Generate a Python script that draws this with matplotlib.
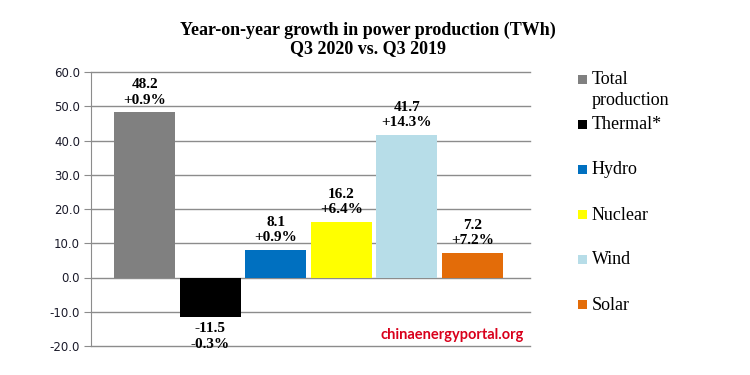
import matplotlib.pyplot as plt
import matplotlib.patches as patches

categories = ["Total\nproduction", "Thermal*", "Hydro", "Nuclear", "Wind", "Solar"]
values = [48.2, -11.5, 8.1, 16.2, 41.7, 7.2]
pct = ["+0.9%", "-0.3%", "+0.9%", "+6.4%", "+14.3%", "+7.2%"]
colors = ["#808080", "#000000", "#0070C0", "#FFFF00", "#B7DDE8", "#E36C09"]
yticks = [-20, -10, 0, 10, 20, 30, 40, 50, 60]

fig = plt.figure(figsize=(7.5, 3.75), dpi=100)
ax = fig.add_axes((91 / 750, 1 - 346 / 375, 439 / 750, 274 / 375))

x = list(range(len(values)))
ax.bar(x, values, width=0.93, color=colors, zorder=2)
ax.set_xlim(-0.82, 5.88)
ax.set_ylim(-20, 60)
ax.set_yticks(yticks)
ax.set_yticklabels([f"{t:.1f}" for t in yticks], fontsize=8.5, color="#1a1a2a", family="DejaVu Sans")
ax.set_xticks([])
for t in yticks:
    ax.axhline(t, color="#8c8c8c", lw=1, zorder=0, clip_on=False)
for s in ["top", "right", "bottom"]:
    ax.spines[s].set_visible(False)
ax.spines["left"].set_color("#8c8c8c")
ax.tick_params(axis="y", length=5, color="#8c8c8c", pad=3)

# value labels
for xi, v, p in zip(x, values, pct):
    up = v >= 0
    ax.annotate(f"{v:.1f}\n{p}", (xi, v), xytext=(0, 4 if up else -4), textcoords="offset points",
                ha="center", va="bottom" if up else "top", fontsize=11, fontweight="bold",
                family="Liberation Serif", linespacing=1.25)

# title
fig.text(368 / 750, 1 - 30 / 375, "Year-on-year growth in power production (TWh)",
         ha="center", va="center", fontsize=13, fontweight="bold", family="Liberation Serif")
fig.text(368 / 750, 1 - 49 / 375, "Q3 2020 vs. Q3 2019",
         ha="center", va="center", fontsize=13, fontweight="bold", family="Liberation Serif")

# legend
legend_y = [80, 125, 170, 215, 260, 305]
for yy, lab, c in zip(legend_y, categories, colors):
    fig.patches.append(patches.Rectangle((578 / 750, 1 - (yy + 4) / 375), 9 / 750, 9 / 375,
                                         transform=fig.transFigure, facecolor=c, edgecolor="none"))
    two = "\n" in lab
    fig.text(592 / 750, 1 - (yy - 9) / 375 if two else 1 - yy / 375, lab, ha="left",
             va="top" if two else "center", fontsize=13, family="Liberation Serif",
             linespacing=1.3)

# watermark
ax.text(0.985, -16.8, "chinaenergyportal.org", transform=ax.get_yaxis_transform(),
        ha="right", va="center", fontsize=10.5, fontweight="bold", color="#d9001b", family="Lato")

fig.savefig("out.png", dpi=100)
